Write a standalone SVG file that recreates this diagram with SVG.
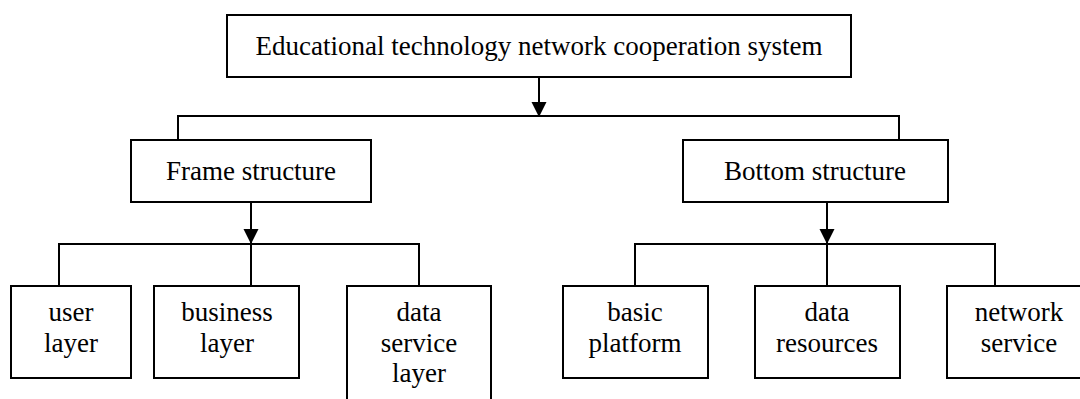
<svg xmlns="http://www.w3.org/2000/svg" width="1080" height="399" viewBox="0 0 1080 399">
  <style>
    .box { fill: #ffffff; stroke: #000000; stroke-width: 2; }
    .line { fill: none; stroke: #000000; stroke-width: 2; }
    text { font-family: "Liberation Serif", "Times New Roman", serif; font-size: 27px; fill: #000000; text-anchor: middle; }
  </style>
  <defs>
    <marker id="arrow" markerUnits="userSpaceOnUse" markerWidth="16" markerHeight="16" refX="15" refY="7.5" orient="auto">
      <path d="M0,0 L15,7.5 L0,15 Z" fill="#000000"/>
    </marker>
  </defs>
  <rect width="1080" height="399" fill="#ffffff"/>

  <g id="connectors">
    <line class="line" x1="539" y1="77" x2="539" y2="117" marker-end="url(#arrow)"/>
    <path class="line" d="M178,140 V116 H899 V140"/>
    <line class="line" x1="251" y1="202" x2="251" y2="244" marker-end="url(#arrow)"/>
    <path class="line" d="M59,286 V244 H419 V286 M251,244 V286"/>
    <line class="line" x1="827" y1="202" x2="827" y2="244" marker-end="url(#arrow)"/>
    <path class="line" d="M635,286 V244 H995 V286 M827,244 V286"/>
  </g>

  <g id="root">
    <rect class="box" x="227" y="15" width="624" height="62"/>
    <text x="539" y="55">Educational technology network cooperation system</text>
  </g>

  <g id="frame">
    <rect class="box" x="131" y="140" width="240" height="62"/>
    <text x="251" y="180">Frame structure</text>
  </g>

  <g id="bottom">
    <rect class="box" x="683" y="140" width="265" height="62"/>
    <text x="815" y="180">Bottom structure</text>
  </g>

  <g id="user-layer">
    <rect class="box" x="11" y="286" width="120" height="92"/>
    <text x="71" y="321">user</text>
    <text x="71" y="352">layer</text>
  </g>

  <g id="business-layer">
    <rect class="box" x="154" y="286" width="145" height="92"/>
    <text x="227" y="321">business</text>
    <text x="227" y="352">layer</text>
  </g>

  <g id="data-service-layer">
    <rect class="box" x="347" y="286" width="144" height="130"/>
    <text x="419" y="321">data</text>
    <text x="419" y="352">service</text>
    <text x="419" y="382">layer</text>
  </g>

  <g id="basic-platform">
    <rect class="box" x="563" y="286" width="145" height="92"/>
    <text x="635" y="321">basic</text>
    <text x="635" y="352">platform</text>
  </g>

  <g id="data-resources">
    <rect class="box" x="755" y="286" width="145" height="92"/>
    <text x="827" y="321">data</text>
    <text x="827" y="352">resources</text>
  </g>

  <g id="network-service">
    <rect class="box" x="947" y="286" width="144" height="92"/>
    <text x="1019" y="321">network</text>
    <text x="1019" y="352">service</text>
  </g>
</svg>
